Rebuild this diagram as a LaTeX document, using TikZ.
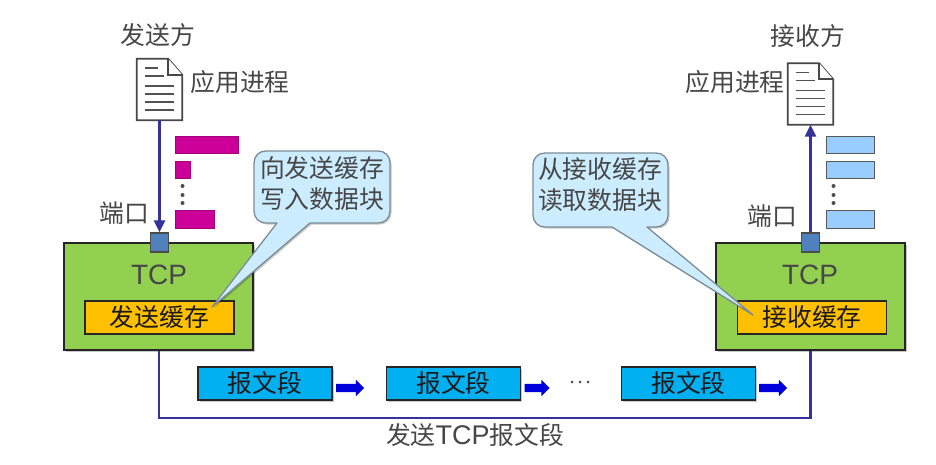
\documentclass[tikz,border=0pt]{standalone}
\usepackage{fontspec}
\setmainfont{Noto Sans CJK SC}
\newfontfamily\latfont{Liberation Sans}
\usetikzlibrary{shapes.arrows,shadows,arrows.meta}
\newcommand{\docshape}[1]{%
  \draw[docline] (#1.north west) -- ([xshift=-14pt]#1.north east) -- ([yshift=-16pt]#1.north east) -- (#1.south east) -- (#1.south west) -- cycle;
  \draw[docline] ([xshift=-14pt]#1.north east) -- ([xshift=-14pt,yshift=-16pt]#1.north east) -- ([yshift=-16pt]#1.north east);
  \foreach \yy/\xa/\xb in {9/8/21,17/8/27,27/8/37,35/8/37,43/8/37,51/8/37}{
    \draw[docthin] ([xshift=\xa pt,yshift=-\yy pt]#1.north west) -- ([xshift=\xb pt,yshift=-\yy pt]#1.north west);
  }}
\tikzset{
  softshadow/.style={drop shadow={shadow xshift=1.5pt,shadow yshift=-1.5pt,opacity=.22,fill=black}},
  label/.style={font=\fontsize{24.8}{24.8}\selectfont,text=black!72,inner sep=0pt},
  tcplabel/.style={font=\latfont\fontsize{28}{28}\selectfont,text=black!72,inner sep=0pt},
  docbox/.style={minimum width=45pt,minimum height=61pt,inner sep=0pt},
  docline/.style={draw=black!72,line width=1.8pt,fill=white,line join=miter},
  docthin/.style={draw=black!68,line width=1.6pt},
  tcpbox/.style={draw=black!85,line width=1.6pt,fill=tcpgreen,minimum width=189pt,minimum height=107pt,inner sep=0pt,softshadow},
  bufbox/.style={draw=black!85,line width=1.4pt,fill=bufyellow,minimum width=149pt,minimum height=33pt,inner sep=0pt,font=\fontsize{24.8}{24.8}\selectfont,text=black!90},
  portbox/.style={draw=black!70,line width=1.2pt,fill=portblue,minimum width=18pt,minimum height=19pt,inner sep=0pt},
  segbox/.style={draw=black!85,line width=1.4pt,fill=segblue,minimum width=134pt,minimum height=33pt,inner sep=0pt,font=\fontsize{24.8}{24.8}\selectfont,text=black!90,softshadow},
  flow/.style={draw=flowblue,line width=2.4pt},
  flowarrow/.style={flow,-{Triangle[length=12pt,width=11pt]}},
  blockarrow/.style={single arrow,fill=arrowblue,draw=none,minimum width=16pt,minimum height=28pt,inner sep=0pt,text height=8pt,text depth=0pt,text width=0pt,single arrow head extend=4pt,single arrow head indent=0pt},
  pinkbar/.style={fill=barpink,draw=barpink!80!black,line width=.6pt,inner sep=0pt},
  bluebar/.style={fill=barblue,draw=black!65,line width=.9pt,inner sep=0pt},
  dotmark/.style={circle,fill=black!70,minimum size=4pt,inner sep=0pt},
  calloutfill/.style={draw=calloutedge,line width=1.3pt,fill=calloutblue,line join=round,softshadow},
  callouttext/.style={font=\fontsize{24.8}{31}\selectfont,text=black!72,align=center,inner sep=0pt},
}
\definecolor{tcpgreen}{HTML}{92D050}
\definecolor{bufyellow}{HTML}{FFC000}
\definecolor{portblue}{HTML}{4F81BD}
\definecolor{segblue}{HTML}{00B0F0}
\definecolor{flowblue}{HTML}{33339A}
\definecolor{arrowblue}{HTML}{0000DD}
\definecolor{barpink}{HTML}{CC0099}
\definecolor{barblue}{HTML}{99CCFF}
\definecolor{calloutblue}{HTML}{CCECFF}
\definecolor{calloutedge}{HTML}{7C8C96}
\begin{document}
\begin{tikzpicture}[x=1pt,y=-1pt]
\useasboundingbox[fill=white] (0,0) rectangle (936,464);
% documents
\node[docbox] (docL) at (159.5,89.5) {};
\node[docbox] (docR) at (810.5,94) {};
\docshape{docL}
\docshape{docR}
% labels
\node[label] (sender) at (158,35) {发送方};
\node[label] (receiver) at (808,36) {接收方};
\node[label] (appL) at (240,82) {应用进程};
\node[label] (appR) at (735,82) {应用进程};
\node[label] (pL) at (124,213) {端口};
\node[label] (pR) at (772,216) {端口};
% TCP boxes
\node[tcpbox] (tcpL) at (158.75,296.5) {};
\node[tcpbox] (tcpR) at (810.5,296.5) {};
\node[tcplabel] (tcpLt) at (159,275) {TCP};
\node[tcplabel] (tcpRt) at (810,275) {TCP};
\node[bufbox] (bufL) at (159.5,317.5) {发送缓存};
\node[bufbox] (bufR) at (812,317.5) {接收缓存};
\node[portbox] (portL) at (159.5,242.5) {};
\node[portbox] (portR) at (810.5,242.5) {};
% vertical connectors
\draw[flowarrow] (docL.south) -- (portL.north);
\draw[flowarrow] (portR.north) -- (docR.south);
% bottom line
\draw[flow] (tcpL.south) -- ++(0,67) -| (tcpR.south);
% bars
\node[pinkbar,minimum width=63pt,minimum height=17pt] (b1) at (206.5,144.5) {};
\node[pinkbar,minimum width=15pt,minimum height=17pt] (b2) at (182.5,169.5) {};
\node[pinkbar,minimum width=39pt,minimum height=18pt] (b3) at (194.5,219) {};
\node[dotmark] (d1) at (182.5,186) {};
\node[dotmark] (d2) at (182.5,195) {};
\node[dotmark] (d3) at (182.5,203) {};
\node[bluebar,minimum width=48pt,minimum height=17pt] (c1) at (850,144.5) {};
\node[bluebar,minimum width=48pt,minimum height=17pt] (c2) at (850,169.5) {};
\node[bluebar,minimum width=48pt,minimum height=18pt] (c3) at (850,219) {};
\node[dotmark] (e1) at (833.5,186) {};
\node[dotmark] (e2) at (833.5,195) {};
\node[dotmark] (e3) at (833.5,203) {};
% callouts
\path[calloutfill] (310,223) -- (378,223) .. controls (385,223) and (390,218) .. (390,211) -- (390,163) .. controls (390,156) and (385,151) .. (378,151) -- (266,151) .. controls (259,151) and (254,156) .. (254,163) -- (254,211) .. controls (254,218) and (259,223) .. (266,223) -- (277,223) -- (212,307) -- cycle;
\node[callouttext] (callL) at (322,184) {向发送缓存\\写入数据块};
\path[calloutfill] (647,227) -- (656,227) .. controls (663,227) and (668,222) .. (668,215) -- (668,165) .. controls (668,158) and (663,153) .. (656,153) -- (545,153) .. controls (538,153) and (533,158) .. (533,165) -- (533,215) .. controls (533,222) and (538,227) .. (545,227) -- (612,227) -- (753,315) -- cycle;
\node[callouttext] (callR) at (600,185) {从接收缓存\\读取数据块};
% segments
\node[segbox] (s1) at (265,383.5) {报文段};
\node[segbox] (s2) at (453.5,383.5) {报文段};
\node[segbox] (s3) at (688.5,383.5) {报文段};
\node[blockarrow] (a1) at (348,388) {};
\node[blockarrow,minimum height=25pt] (a2) at (535,388) {};
\node[blockarrow] (a3) at (771,388) {};
\node[dotmark,minimum size=3pt] (f1) at (572,382) {};
\node[dotmark,minimum size=3pt] (f2) at (580,382) {};
\node[dotmark,minimum size=3pt] (f3) at (588,382) {};
\node[label] (bottom) at (475,435) {发送{\latfont\fontsize{27}{27}\selectfont TCP}报文段};
\end{tikzpicture}
\end{document}
